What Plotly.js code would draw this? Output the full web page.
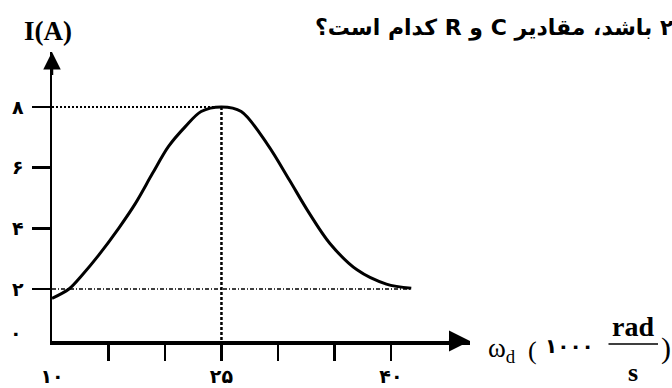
<!DOCTYPE html>
<html>
<head>
<meta charset="utf-8">
<script src="https://cdn.plot.ly/plotly-3.0.1.min.js"></script>
<style>
    html, body { margin: 0; padding: 0; background: #fff; }
    #chart { width: 672px; height: 388px; }
</style>
</head>
<body>
<div id="chart"></div>
<script>
// resonance curve: current vs driving frequency
let omega = [10, 11.5, 12.6, 14.1, 15.9, 17.4, 18.9, 20.3, 21.8, 23.2, 25, 26.75, 29.1, 31, 32.6, 34.6, 37, 39.6, 41.8]
let current = [1.69, 2.0, 2.43, 3.1, 4.0, 4.83, 5.81, 6.69, 7.35, 7.85, 8, 7.85, 6.75, 5.6, 4.6, 3.5, 2.63, 2.16, 2.02]

let peakOmega = 25
let peakCurrent = 8
let endCurrent = 2

let yTickVals = [2, 4, 6, 8]
let yTickText = ['۲', '۴', '۶', '۸']
let xMinorTicks = [15, 20, 25, 30, 35, 40]
let xTickVals = [10, 25, 40]
let xTickText = ['۱۰', '۲۵', '۴۰']

let questionText = '<b>۲ باشد، مقادیر C و R کدام است؟</b>'

// plot area in pixels
let L = 52, T = 52, W = 418, H = 289
let px = x => (x - L) / W
let py = y => 1 - (y - T) / H

let faFont = 'DejaVu Sans, sans-serif'
let serif = 'Liberation Serif, serif'

let traces = [
    {
        x: omega,
        y: current,
        type: 'scatter',
        mode: 'lines',
        line: { color: '#000', width: 3, shape: 'spline', smoothing: 0.9 },
        hoverinfo: 'skip'
    },
    {
        // guide at the peak (horizontal)
        x: [omega[0], peakOmega],
        y: [peakCurrent, peakCurrent],
        type: 'scatter',
        mode: 'lines',
        line: { color: '#000', width: 2, dash: '2px,2px' },
        hoverinfo: 'skip'
    },
    {
        // guide at the peak (vertical)
        x: [peakOmega, peakOmega],
        y: [peakCurrent, 0],
        type: 'scatter',
        mode: 'lines',
        line: { color: '#000', width: 2.5, dash: '3px,2px' },
        hoverinfo: 'skip'
    },
    {
        x: [omega[0], omega[omega.length - 1]],
        y: [endCurrent, endCurrent],
        type: 'scatter',
        mode: 'lines',
        line: { color: '#000', width: 1.5, dash: '4px,2px,1px,2px' },
        hoverinfo: 'skip'
    }
]

let note = (text, x, y, font, extra) => Object.assign({
    text: text, x: px(x), y: py(y), xref: 'paper', yref: 'paper',
    xanchor: 'center', yanchor: 'middle', showarrow: false, font: font
}, extra || {})

let layout = {
    width: 672,
    height: 388,
    margin: { l: L, r: 672 - L - W, t: T, b: 388 - T - H },
    paper_bgcolor: '#fff',
    plot_bgcolor: '#fff',
    showlegend: false,
    xaxis: {
        range: [10, 47],
        showgrid: false,
        zeroline: false,
        showline: true,
        linecolor: '#000',
        linewidth: 3.5,
        tickmode: 'array',
        tickvals: xTickVals,
        ticktext: xTickText,
        ticks: '',
        ticklabelstandoff: 16,
        tickfont: { family: faFont, size: 19, color: '#000', weight: 'bold' },
        minor: {
            tickmode: 'array',
            tickvals: xMinorTicks,
            ticks: 'outside',
            ticklen: 16,
            tickwidth: 2.5,
            tickcolor: '#000'
        },
        fixedrange: true
    },
    yaxis: {
        range: [0.285, 9.81],
        showgrid: false,
        zeroline: false,
        showline: true,
        linecolor: '#000',
        linewidth: 2.5,
        tickmode: 'array',
        tickvals: yTickVals,
        ticktext: yTickText,
        ticks: 'outside',
        ticklen: 18,
        tickwidth: 2.5,
        tickcolor: '#000',
        ticklabelstandoff: 4,
        tickfont: { family: faFont, size: 19, color: '#000', weight: 'bold' },
        fixedrange: true
    },
    annotations: [
        // arrow heads
        {
            x: 47, y: 0.285, ax: 45, ay: 0.285,
            xref: 'x', yref: 'y', axref: 'x', ayref: 'y',
            showarrow: true, arrowhead: 2, arrowsize: 1.4, arrowwidth: 3, arrowcolor: '#000', text: ''
        },
        {
            x: 10, y: 9.81, ax: 10, ay: 9.0,
            xref: 'x', yref: 'y', axref: 'x', ayref: 'y',
            showarrow: true, arrowhead: 2, arrowsize: 1.4, arrowwidth: 2.5, arrowcolor: '#000', text: ''
        },
        note('<b>I(A)</b>', 48, 31, { family: serif, size: 27, color: '#000' }),
        note('<b>۰</b>', 16, 333, { family: faFont, size: 19, color: '#000' }),
        note(questionText, 494, 28, { family: faFont, size: 22, color: '#000' }),
        // x-axis title, piece by piece
        note('ω<sub>d</sub>', 486, 350, { family: serif, size: 27, color: '#000' }, { xanchor: 'left' }),
        note('(', 532, 350, { family: serif, size: 26, color: '#000' }),
        note('<b>۱۰۰۰</b>', 569, 346, { family: faFont, size: 20, color: '#000' }),
        note('<b>rad</b>', 633, 326, { family: serif, size: 28, color: '#000' }),
        note('<b>s</b>', 633, 372, { family: serif, size: 26, color: '#000' }),
        note(')', 666, 348, { family: serif, size: 30, color: '#000' }),
        // fraction bar
        {
            x: px(658), y: py(344), ax: -51, ay: 0, xref: 'paper', yref: 'paper',
            showarrow: true, arrowhead: 0, arrowwidth: 1.5, arrowcolor: '#000', text: ''
        }
    ]
}

Plotly.newPlot('chart', traces, layout, { staticPlot: true, displayModeBar: false }).then(gd => {
    // the question line is Persian: lay it out right to left
    gd.querySelectorAll('.annotation-text').forEach(t => {
        if (t.textContent.includes('کدام')) {
            t.setAttribute('direction', 'rtl')
            t.style.direction = 'rtl'
            t.style.unicodeBidi = 'embed'
        }
    })
})
</script>
</body>
</html>
